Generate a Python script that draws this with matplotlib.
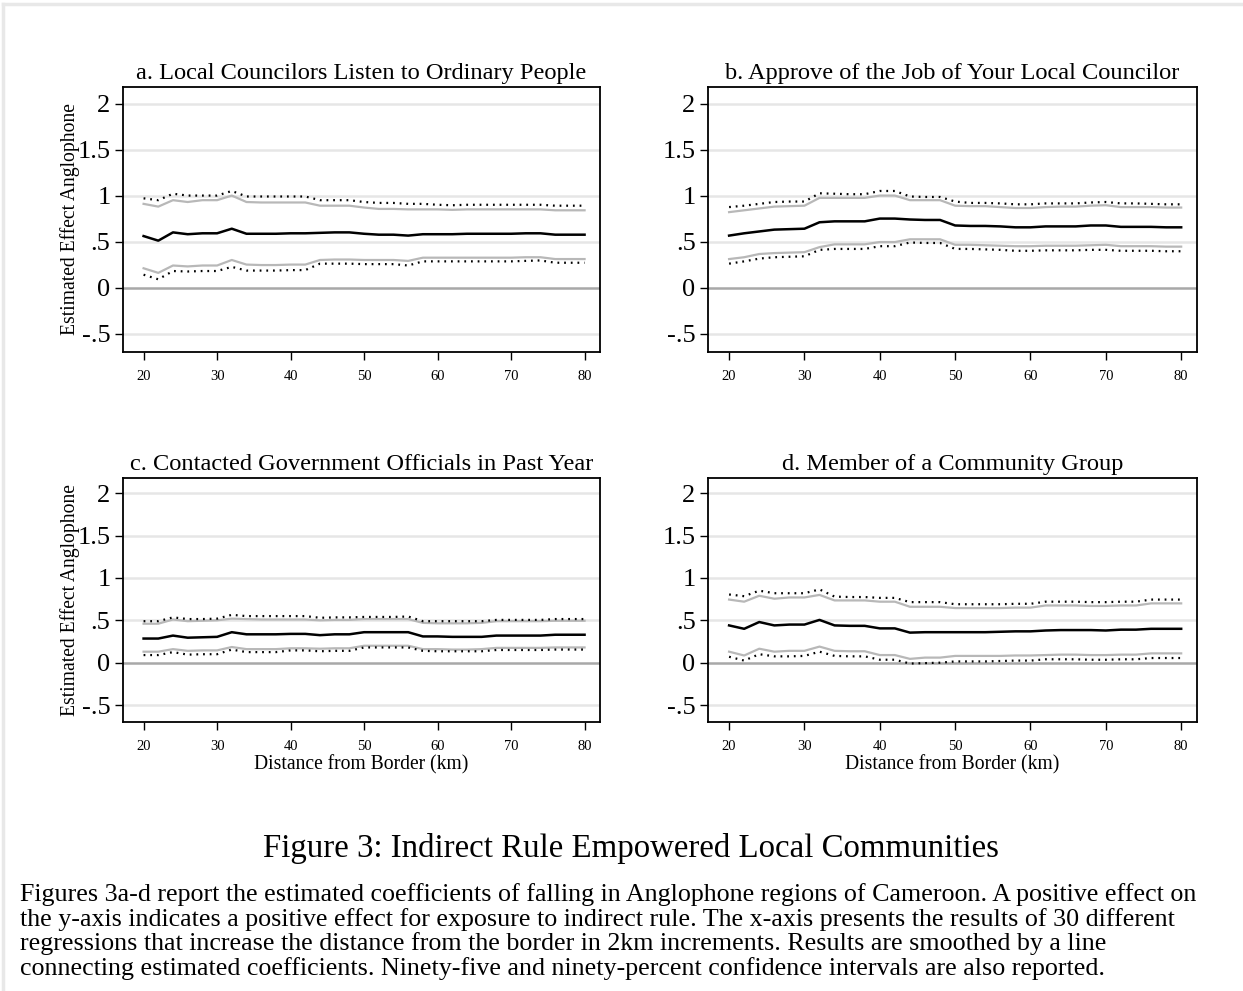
import matplotlib
matplotlib.use('Agg')
import matplotlib.pyplot as plt
from matplotlib.lines import Line2D

# Times-like serif for everything
plt.rcParams['font.family'] = ['Liberation Serif', 'DejaVu Serif']

# x values: distance from border (km), 2 km steps
distance = [20, 22, 24, 26, 28, 30, 32, 34, 36, 38, 40, 42, 44, 46, 48, 50,
            52, 54, 56, 58, 60, 62, 64, 66, 68, 70, 72, 74, 76, 78, 80]

# a. Local Councilors Listen to Ordinary People
a_est = [0.56, 0.51, 0.60, 0.58, 0.59, 0.59, 0.64, 0.585, 0.585, 0.585, 0.59, 0.59, 0.595, 0.60, 0.60, 0.585,
         0.575, 0.575, 0.565, 0.58, 0.58, 0.58, 0.585, 0.585, 0.585, 0.585, 0.59, 0.59, 0.575, 0.575, 0.575]
a_hi90 = [0.91, 0.88, 0.95, 0.93, 0.95, 0.95, 1.0, 0.93, 0.925, 0.925, 0.925, 0.925, 0.89, 0.89, 0.89, 0.87,
          0.855, 0.855, 0.85, 0.85, 0.85, 0.845, 0.85, 0.85, 0.85, 0.85, 0.85, 0.85, 0.84, 0.84, 0.84]
a_hi95 = [0.97, 0.95, 1.02, 1.0, 1.0, 1.0, 1.05, 0.99, 0.99, 0.99, 0.99, 0.99, 0.95, 0.95, 0.95, 0.93,
          0.92, 0.92, 0.91, 0.91, 0.90, 0.895, 0.90, 0.90, 0.90, 0.90, 0.90, 0.90, 0.89, 0.89, 0.89]
a_lo90 = [0.21, 0.16, 0.24, 0.23, 0.24, 0.24, 0.30, 0.25, 0.245, 0.245, 0.25, 0.25, 0.30, 0.305, 0.305, 0.30,
          0.30, 0.30, 0.29, 0.325, 0.325, 0.325, 0.325, 0.325, 0.325, 0.325, 0.33, 0.33, 0.31, 0.31, 0.31]
a_lo95 = [0.14, 0.09, 0.18, 0.175, 0.18, 0.18, 0.225, 0.185, 0.185, 0.185, 0.19, 0.19, 0.26, 0.26, 0.26, 0.255,
          0.255, 0.255, 0.24, 0.285, 0.285, 0.285, 0.285, 0.285, 0.285, 0.285, 0.29, 0.295, 0.27, 0.27, 0.27]

# b. Approve of the Job of Your Local Councilor
b_est = [0.565, 0.59, 0.61, 0.63, 0.635, 0.64, 0.71, 0.72, 0.72, 0.72, 0.75, 0.75, 0.74, 0.735, 0.735, 0.675,
         0.67, 0.67, 0.665, 0.655, 0.655, 0.665, 0.665, 0.665, 0.675, 0.675, 0.66, 0.66, 0.66, 0.655, 0.655]
b_hi90 = [0.82, 0.84, 0.86, 0.88, 0.885, 0.89, 0.975, 0.975, 0.975, 0.975, 1.0, 1.0, 0.95, 0.95, 0.95, 0.89,
          0.885, 0.885, 0.875, 0.865, 0.865, 0.875, 0.88, 0.88, 0.89, 0.895, 0.875, 0.875, 0.875, 0.87, 0.87]
b_hi95 = [0.875, 0.89, 0.91, 0.93, 0.935, 0.935, 1.025, 1.02, 1.015, 1.015, 1.05, 1.05, 0.99, 0.985, 0.985, 0.935,
          0.92, 0.92, 0.915, 0.905, 0.905, 0.915, 0.915, 0.915, 0.925, 0.93, 0.915, 0.915, 0.91, 0.905, 0.905]
b_lo90 = [0.31, 0.33, 0.365, 0.375, 0.38, 0.385, 0.44, 0.47, 0.47, 0.47, 0.495, 0.495, 0.525, 0.525, 0.525, 0.465,
          0.465, 0.46, 0.455, 0.45, 0.45, 0.455, 0.455, 0.455, 0.46, 0.465, 0.45, 0.45, 0.45, 0.445, 0.445]
b_lo95 = [0.26, 0.285, 0.315, 0.33, 0.335, 0.34, 0.41, 0.42, 0.42, 0.42, 0.45, 0.45, 0.49, 0.485, 0.485, 0.42,
          0.42, 0.415, 0.41, 0.40, 0.40, 0.405, 0.405, 0.405, 0.41, 0.41, 0.40, 0.40, 0.40, 0.395, 0.395]

# c. Contacted Government Officials in Past Year
c_est = [0.285, 0.285, 0.32, 0.295, 0.30, 0.305, 0.36, 0.335, 0.335, 0.335, 0.34, 0.34, 0.325, 0.335, 0.335, 0.36,
         0.36, 0.36, 0.36, 0.31, 0.31, 0.305, 0.305, 0.305, 0.32, 0.32, 0.32, 0.32, 0.33, 0.33, 0.33]
c_hi90 = [0.46, 0.46, 0.51, 0.49, 0.495, 0.50, 0.52, 0.515, 0.51, 0.51, 0.51, 0.51, 0.50, 0.505, 0.505, 0.515,
          0.515, 0.515, 0.515, 0.47, 0.465, 0.465, 0.465, 0.47, 0.49, 0.49, 0.49, 0.49, 0.495, 0.495, 0.495]
c_hi95 = [0.49, 0.49, 0.535, 0.515, 0.515, 0.52, 0.565, 0.55, 0.55, 0.55, 0.55, 0.55, 0.53, 0.535, 0.535, 0.54,
          0.54, 0.54, 0.545, 0.49, 0.49, 0.49, 0.49, 0.49, 0.505, 0.505, 0.505, 0.505, 0.515, 0.515, 0.515]
c_lo90 = [0.13, 0.13, 0.16, 0.14, 0.145, 0.145, 0.185, 0.16, 0.16, 0.16, 0.17, 0.17, 0.165, 0.17, 0.17, 0.20,
          0.20, 0.20, 0.20, 0.16, 0.16, 0.155, 0.155, 0.16, 0.175, 0.175, 0.175, 0.175, 0.18, 0.18, 0.18]
c_lo95 = [0.09, 0.09, 0.125, 0.095, 0.10, 0.10, 0.155, 0.125, 0.125, 0.125, 0.145, 0.145, 0.135, 0.14, 0.14, 0.18,
          0.18, 0.18, 0.18, 0.14, 0.135, 0.135, 0.135, 0.135, 0.15, 0.15, 0.15, 0.15, 0.155, 0.155, 0.155]

# d. Member of a Community Group
d_est = [0.44, 0.40, 0.48, 0.44, 0.45, 0.45, 0.505, 0.44, 0.435, 0.435, 0.405, 0.405, 0.355, 0.36, 0.36, 0.36,
         0.36, 0.36, 0.365, 0.37, 0.37, 0.38, 0.385, 0.385, 0.385, 0.38, 0.39, 0.39, 0.40, 0.40, 0.40]
d_hi90 = [0.745, 0.72, 0.79, 0.755, 0.77, 0.77, 0.80, 0.735, 0.735, 0.735, 0.72, 0.72, 0.66, 0.66, 0.66, 0.645,
          0.645, 0.645, 0.645, 0.65, 0.65, 0.675, 0.675, 0.675, 0.67, 0.67, 0.675, 0.675, 0.70, 0.70, 0.70]
d_hi95 = [0.805, 0.785, 0.85, 0.82, 0.82, 0.82, 0.865, 0.78, 0.775, 0.775, 0.765, 0.765, 0.715, 0.715, 0.715, 0.69,
          0.69, 0.69, 0.69, 0.695, 0.695, 0.72, 0.72, 0.72, 0.715, 0.715, 0.72, 0.72, 0.745, 0.745, 0.745]
d_lo90 = [0.13, 0.085, 0.165, 0.13, 0.14, 0.14, 0.19, 0.14, 0.135, 0.135, 0.09, 0.09, 0.045, 0.06, 0.06, 0.08,
          0.08, 0.08, 0.08, 0.085, 0.085, 0.09, 0.095, 0.095, 0.09, 0.09, 0.095, 0.095, 0.11, 0.11, 0.11]
d_lo95 = [0.07, 0.025, 0.10, 0.075, 0.075, 0.08, 0.13, 0.08, 0.075, 0.075, 0.035, 0.035, -0.01, -0.005, 0.0, 0.015,
          0.015, 0.015, 0.02, 0.025, 0.025, 0.04, 0.04, 0.04, 0.035, 0.035, 0.04, 0.04, 0.055, 0.055, 0.055]

panel_titles = ['a. Local Councilors Listen to Ordinary People',
                'b. Approve of the Job of Your Local Councilor',
                'c. Contacted Government Officials in Past Year',
                'd. Member of a Community Group']

yticks = [-0.5, 0, 0.5, 1, 1.5, 2]
ytick_labels = ['-.5', '0', '.5', '1', '1.5', '2']
xticks = [20, 30, 40, 50, 60, 70, 80]

caption_title = 'Figure 3: Indirect Rule Empowered Local Communities'
caption_lines = [
    'Figures 3a-d report the estimated coefficients of falling in Anglophone regions of Cameroon. A positive effect on',
    'the y-axis indicates a positive effect for exposure to indirect rule. The x-axis presents the results of 30 different',
    'regressions that increase the distance from the border in 2km increments. Results are smoothed by a line',
    'connecting estimated coefficients. Ninety-five and ninety-percent confidence intervals are also reported.',
]

W, H = 1243, 991
fig = plt.figure(figsize=(W / 100, H / 100), dpi=100)

# axes boxes in pixels: (left, top, right, bottom)
boxes = [(123, 87, 600, 352), (708, 87, 1197, 352),
         (123, 478, 600, 722), (708, 478, 1197, 722)]
series = [(a_est, a_hi90, a_hi95, a_lo90, a_lo95),
          (b_est, b_hi90, b_hi95, b_lo90, b_lo95),
          (c_est, c_hi90, c_hi95, c_lo90, c_lo95),
          (d_est, d_hi90, d_hi95, d_lo90, d_lo95)]

for i, (box, title, s) in enumerate(zip(boxes, panel_titles, series)):
    l, t, r, b = box
    ax = fig.add_axes([l / W, 1 - b / H, (r - l) / W, (b - t) / H])
    est, hi90, hi95, lo90, lo95 = s

    # horizontal grid, darker zero line
    for yv in yticks:
        if yv == 0:
            ax.axhline(yv, color='#a8a8a8', lw=1.8, zorder=1)
        else:
            ax.axhline(yv, color='#e6e6e6', lw=1.8, zorder=0)

    ax.plot(distance, hi90, color='#b8b8b8', lw=1.6, zorder=2)
    ax.plot(distance, lo90, color='#b8b8b8', lw=1.6, zorder=2)
    ax.plot(distance, hi95, color='black', lw=1.6, ls=(0, (0.8, 2.2)), zorder=3)
    ax.plot(distance, lo95, color='black', lw=1.6, ls=(0, (0.8, 2.2)), zorder=3)
    ax.plot(distance, est, color='black', lw=1.8, zorder=4)

    ax.set_xlim(17.2, 82.1)
    ax.set_ylim(-0.7, 2.18)
    ax.set_yticks(yticks)
    ax.set_yticklabels(ytick_labels)
    ax.set_xticks(xticks)
    ax.tick_params(axis='y', direction='out', length=6, width=1, labelsize=19, pad=3)
    ax.tick_params(axis='x', direction='out', length=6, width=1, labelsize=10.5, pad=7)
    for sp in ax.spines.values():
        sp.set_linewidth(1.3)
        sp.set_color('black')

    ax.set_title(title, fontsize=17.6, pad=6)

    cy = 1 - (t + b) / 2 / H
    cx = (l + r) / 2 / W
    if i % 2 == 0:
        fig.text(70 / W, cy, 'Estimated Effect Anglophone', rotation=90,
                 ha='center', va='center', fontsize=14.1)
    if i >= 2:
        fig.text(cx, 1 - 765 / H, 'Distance from Border (km)',
                 ha='center', va='center', fontsize=14.1)

# caption
fig.text(631 / W, 1 - 848 / H, caption_title, ha='center', va='center', fontsize=23.7)
for k, line in enumerate(caption_lines):
    fig.text(20 / W, 1 - (895 + 24.5 * k) / H, line, ha='left', va='center', fontsize=18.7)

# faint page frame at top and left
fig.add_artist(Line2D([3 / W, 1], [1 - 4 / H, 1 - 4 / H], color='#e8e8e8', lw=2.5))
fig.add_artist(Line2D([3 / W, 3 / W], [0, 1 - 4 / H], color='#e8e8e8', lw=2.5))

plt.savefig('out.png', dpi=100)
